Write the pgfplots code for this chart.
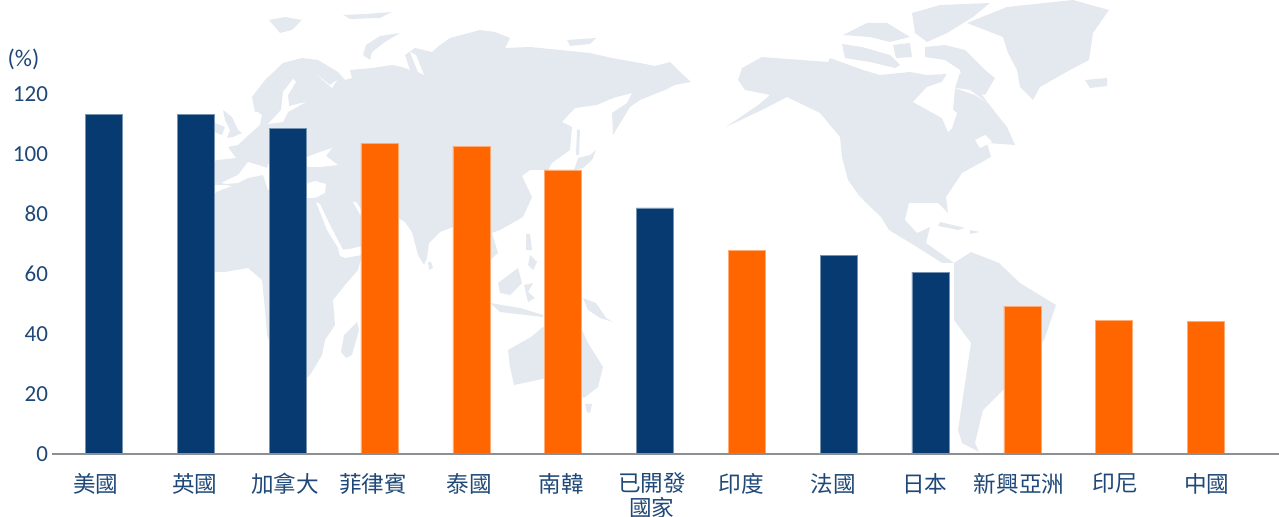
\documentclass[border=0pt]{standalone}
\usepackage{fontspec}
\usepackage{pgfplots}
\pgfplotsset{compat=1.18}
\setmainfont{Carlito}
\newfontfamily\cjk{Noto Sans CJK TC}
\definecolor{navy}{HTML}{063A70}
\definecolor{orangebar}{HTML}{FF6600}
\definecolor{labelc}{HTML}{1F4878}
\definecolor{mapc}{HTML}{E4E9F0}
\definecolor{linec}{HTML}{8C8F94}
\pgfplotsset{
  land/.style={draw=none, fill=mapc, no markers, line join=round},
  sea/.style={draw=none, fill=white, no markers, line join=round},
}
\begin{document}
\begin{tikzpicture}
\useasboundingbox (0,0) rectangle (639.5pt,258.5pt);
% background map, coordinates in reference pixels
\begin{axis}[
  at={(0pt,0pt)}, anchor=south west,
  scale only axis, width=639.5pt, height=258.5pt,
  xmin=0, xmax=1279, ymin=0, ymax=517, y dir=reverse,
  hide axis,
]
% Eurasia
\addplot[land] coordinates {(205,178)(205,163)(218,160)(236,158)(228,147)(238,145)(252,132)(260,125)(262,115)(258,112)(255,112)(252,97)(265,80)(283,63)(302,58)(318,60)(338,72)(345,80)(352,78)(350,70)(372,68)(392,65)(402,67)(410,70)(405,55)(415,48)(432,52)(440,45)(450,38)(480,30)(495,32)(510,38)(505,48)(530,47)(560,50)(590,53)(612,58)(640,63)(655,66)(670,62)(680,72)(691,82)(675,85)(665,90)(640,100)(630,107)(613,135)(612,113)(627,103)(632,93)(613,98)(597,105)(575,108)(562,122)(572,127)(570,150)(552,163)(548,170)(530,170)(522,176)(532,197)(523,217)(500,230)(492,233)(498,253)(490,260)(482,275)(470,270)(453,227)(440,232)(429,243)(427,258)(424,265)(418,255)(412,232)(405,222)(398,218)(390,238)(375,248)(360,250)(345,256)(330,240)(320,205)(300,200)(260,190)(225,185)(215,185)} --cycle;
% Africa
\addplot[land] coordinates {(210,205)(216,192)(235,185)(255,180)(265,185)(280,190)(300,196)(318,198)(325,215)(335,240)(340,256)(345,258)(362,255)(358,270)(345,285)(333,300)(335,325)(325,340)(322,355)(310,375)(298,385)(285,380)(275,360)(267,335)(265,310)(262,280)(248,268)(225,272)(214,272)(200,255)(198,225)} --cycle;
% islands of the old world
\addplot[land] coordinates {(341,352)(344,335)(357,322)(359,330)(352,355)(346,358)} --cycle;
\addplot[land] coordinates {(428,262)(431,262)(433,268)(429,270)} --cycle;
\addplot[land] coordinates {(508,350)(531,337)(543,327)(582,330)(588,343)(603,367)(598,387)(584,398)(571,390)(547,378)(514,385)(510,367)} --cycle;
\addplot[land] coordinates {(585,404)(592,404)(590,413)(587,412)} --cycle;
\addplot[land] coordinates {(498,283)(518,268)(522,283)(510,295)(500,293)} --cycle;
\addplot[land] coordinates {(490,303)(520,308)(543,315)(543,317)(500,312)} --cycle;
\addplot[land] coordinates {(524,285)(533,283)(528,292)(535,298)(528,302)} --cycle;
\addplot[land] coordinates {(583,298)(596,303)(606,318)(613,322)(600,318)(588,310)} --cycle;
\addplot[land] coordinates {(526,234)(530,234)(532,250)(526,250)} --cycle;
\addplot[land] coordinates {(530,255)(537,262)(533,270)(528,265)} --cycle;
\addplot[land] coordinates {(574,170)(578,158)(590,155)(596,150)(592,160)(583,168)} --cycle;
\addplot[land] coordinates {(577,130)(580,130)(579,155)(576,155)} --cycle;
\addplot[land] coordinates {(269,20)(285,17)(302,20)(292,30)(280,33)} --cycle;
\addplot[land] coordinates {(343,15)(365,14)(392,12)(380,18)(350,19)} --cycle;
\addplot[land] coordinates {(363,55)(366,45)(380,36)(400,33)(385,42)(372,52)(370,60)} --cycle;
\addplot[land] coordinates {(567,40)(596,38)(590,44)(570,46)} --cycle;
\addplot[land] coordinates {(223,110)(232,117)(238,130)(242,133)(233,137)(227,138)(230,130)(225,120)} --cycle;
\addplot[land] coordinates {(215,123)(225,127)(222,135)(214,132)} --cycle;
% North America
\addplot[land] coordinates {(742,68)(762,57)(828,62)(830,58)(863,70)(880,75)(910,72)(927,75)(966,73)(988,103)(1007,127)(1015,145)(987,143)(991,157)(962,173)(946,197)(948,213)(938,203)(909,203)(905,220)(917,233)(930,227)(926,243)(954,263)(942,263)(917,247)(889,230)(881,217)(860,197)(848,180)(842,157)(840,137)(820,113)(787,97)(762,110)(726,127)(758,105)(770,95)(745,90)(738,80)} --cycle;
% South America
\addplot[land] coordinates {(954,263)(971,252)(999,263)(1020,283)(1056,305)(1044,340)(1003,390)(983,410)(975,443)(979,452)(962,443)(958,430)(971,343)(954,320)} --cycle;
% Greenland, Iceland, arctic islands
\addplot[land] coordinates {(967,23)(1007,7)(1073,0)(1109,10)(1093,33)(1089,60)(1070,70)(1040,87)(1033,100)(1020,87)(1017,70)(1008,53)(1003,37)} --cycle;
\addplot[land] coordinates {(1085,80)(1107,78)(1107,86)(1090,88)} --cycle;
\addplot[land] coordinates {(925,47)(945,45)(965,50)(985,70)(995,78)(985,95)(965,90)(960,70)(945,60)(925,57)} --cycle;
\addplot[land] coordinates {(842,44)(862,47)(890,55)(900,65)(895,68)(870,62)(845,58)} --cycle;
\addplot[land] coordinates {(843,35)(867,23)(887,23)(910,37)(890,42)(870,37)} --cycle;
\addplot[land] coordinates {(893,45)(910,43)(912,57)(896,58)} --cycle;
\addplot[land] coordinates {(912,13)(940,5)(990,3)(973,17)(947,33)(927,42)(915,33)} --cycle;
\addplot[land] coordinates {(940,222)(965,228)(958,230)(938,226)} --cycle;
\addplot[land] coordinates {(970,230)(980,232)(970,234)} --cycle;
% inland seas
\addplot[sea] coordinates {(293,79)(283,92)(281,110)(272,120)(268,124)(283,122)(288,112)(306,102)(289,106)(288,95)(296,82)} --cycle;
\addplot[sea] coordinates {(307,157)(320,152)(332,148)(326,156)(338,165)(320,167)(307,167)} --cycle;
\addplot[sea] coordinates {(317,75)(332,88)(337,80)(330,85)} --cycle;
\addplot[sea] coordinates {(410,52)(418,72)(424,75)(416,55)} --cycle;
\addplot[sea] coordinates {(222,183)(225,181)(238,175)(248,162)(258,165)(267,168)(270,160)(290,165)(306,184)(315,181)(326,184)(325,193)(315,198)(306,198)(268,190)(263,175)(248,178)(238,183)(226,184)} --cycle;
\addplot[sea] coordinates {(316,202)(320,204)(330,225)(343,250)(340,251)(327,230)} --cycle;
\addplot[sea] coordinates {(340,250)(350,249)(362,246)(362,252)(345,256)(342,254)} --cycle;
\addplot[sea] coordinates {(353,202)(356,202)(363,212)(361,216)} --cycle;
\addplot[sea] coordinates {(913,102)(927,87)(942,82)(948,72)(960,72)(955,88)(953,110)(957,113)(952,128)(948,132)(942,118)} --cycle;
\addplot[sea] coordinates {(955,88)(970,90)(987,103)(975,95)} --cycle;
\addplot[sea] coordinates {(975,140)(985,135)(992,142)(980,148)} --cycle;
\addplot[sea] coordinates {(860,195)(870,215)(878,220)(866,205)} --cycle;
\node[text=labelc, font=\fontsize{12}{14}\selectfont] at (axis cs:23.5,59) {(\%)};
\end{axis}
% the bars
\begin{axis}[
  at={(26pt,31.5pt)}, anchor=south west,
  scale only axis, width=613.5pt, height=180pt,
  xmin=-0.566, xmax=12.795, ymin=0, ymax=120,
  ytick={0,20,40,60,80,100,120},
  xtick={-0.087,0.991,1.971,2.93,3.975,4.977,5.967,6.937,7.94,8.94,9.964,11.01,12.01},
  xticklabels={美國,英國,加拿大,菲律賓,泰國,南韓,已開發\\國家,印度,法國,日本,新興亞洲,印尼,中國},
  x tick label style={align=center, font=\cjk\fontsize{11.3}{12.2}\selectfont, text=labelc, anchor=north, yshift=-6pt},
  y tick label style={font=\fontsize{11.5}{13}\selectfont, text=labelc, /pgf/number format/assume math mode=true, xshift=1.5pt},
  axis lines=left,
  axis line style={draw=none},
  major tick length=0pt,
  ybar, bar width=18.5pt,
  every axis plot/.append style={bar shift=0pt},
  clip=false,
]
\addplot[fill=navy, draw=navy!55!white, line width=0.2pt] coordinates {(0,113.2)(1,113.2)(2,108.5)(6,82.0)(8,66.3)(9,60.6)};
\addplot[fill=orangebar, draw=orangebar!55!white, line width=0.2pt] coordinates {(3,103.5)(4,102.5)(5,94.7)(7,67.9)(10,49.3)(11,44.6)(12,44.2)};
\draw[linec, line width=0.6pt] (axis cs:-0.566,0) -- (axis cs:12.795,0);
\end{axis}
\end{tikzpicture}
\end{document}
